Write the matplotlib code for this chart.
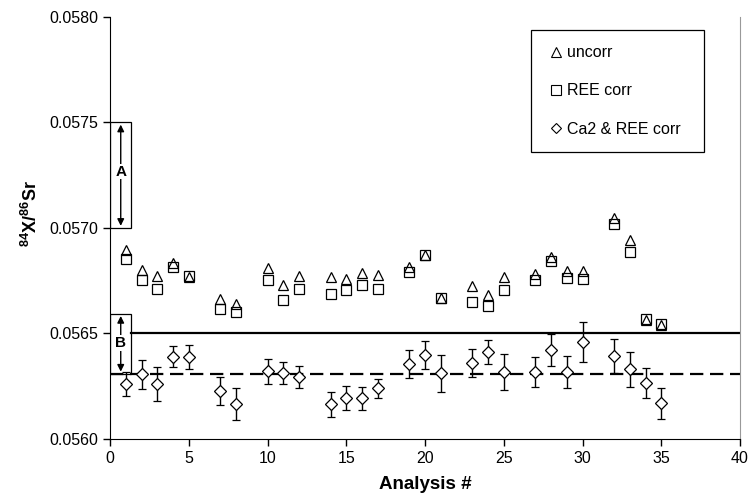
import numpy as np
import matplotlib
matplotlib.use("Agg")
import matplotlib.pyplot as plt
from matplotlib.patches import Rectangle
from matplotlib.lines import Line2D

plt.rcParams['font.family'] = ['Liberation Sans', 'DejaVu Sans']
plt.rcParams['mathtext.fontset'] = 'custom'
plt.rcParams['mathtext.rm'] = 'Liberation Sans'
plt.rcParams['mathtext.bf'] = 'Liberation Sans:bold'

# analysis numbers
analysis = [1, 2, 3, 4, 5, 7, 8, 10, 11, 12, 14, 15, 16, 17, 19, 20, 21,
            23, 24, 25, 27, 28, 29, 30, 32, 33, 34, 35]

# uncorrected ratio
uncorr = [0.056896, 0.056801, 0.056773, 0.056832, 0.056770, 0.056664, 0.056641,
          0.056810, 0.056731, 0.056773, 0.056770, 0.056758, 0.056787, 0.056775,
          0.056815, 0.056870, 0.056668, 0.056725, 0.056680, 0.056768, 0.056784,
          0.056864, 0.056795, 0.056794, 0.057047, 0.056943, 0.056566, 0.056540]

# REE corrected
ree_corr = [0.056851, 0.056754, 0.056713, 0.056815, 0.056773, 0.056616, 0.056600,
            0.056754, 0.056659, 0.056711, 0.056685, 0.056706, 0.056731, 0.056712,
            0.056792, 0.056872, 0.056670, 0.056651, 0.056628, 0.056706, 0.056754,
            0.056845, 0.056763, 0.056758, 0.057019, 0.056886, 0.056570, 0.056545]

# Ca2 & REE corrected, with errors
ca_ree_corr = [0.056261, 0.056307, 0.056259, 0.056389, 0.056389, 0.056229, 0.056166,
               0.056321, 0.056314, 0.056294, 0.056164, 0.056193, 0.056193, 0.056240,
               0.056354, 0.056398, 0.056311, 0.056359, 0.056411, 0.056318, 0.056318,
               0.056422, 0.056319, 0.056460, 0.056393, 0.056330, 0.056264, 0.056169]
ca_ree_err = [0.000058, 0.000068, 0.000080, 0.000050, 0.000055, 0.000066, 0.000077,
              0.000060, 0.000053, 0.000054, 0.000058, 0.000057, 0.000054, 0.000044,
              0.000067, 0.000066, 0.000087, 0.000067, 0.000056, 0.000087, 0.000070,
              0.000075, 0.000076, 0.000093, 0.000080, 0.000084, 0.000071, 0.000073]

# reference levels
level_solid = 0.05650
level_dashed = 0.05631

fig = plt.figure(figsize=(7.5, 5.01), dpi=100)
ax = fig.add_axes([0.1467, 0.1238, 0.84, 0.8423])

# horizontal reference lines
ax.plot([1.33, 40], [level_solid, level_solid], color='black', lw=1.6, zorder=1)
ax.plot([0, 40], [level_dashed, level_dashed], color='black', lw=1.6,
        dashes=(6, 3), zorder=1)

ax.plot(analysis, ree_corr, linestyle='none', marker='s', ms=7.3,
        mfc='white', mec='black', mew=0.9, zorder=3)
ax.plot(analysis, uncorr, linestyle='none', marker='^', ms=7.8,
        mfc='none', mec='black', mew=0.9, zorder=4)
ax.errorbar(analysis, ca_ree_corr, yerr=ca_ree_err, fmt='D', ms=6,
            mfc='white', mec='black', mew=0.9, ecolor='black', elinewidth=1,
            capsize=3, capthick=1, zorder=3)

# boxes A and B with double arrows
ax.add_patch(Rectangle((0, 0.0570), 1.33, 0.0005, fill=False, ec='black',
                       lw=0.9, zorder=2))
ax.annotate('', xy=(0.68, 0.05749), xytext=(0.68, 0.05701),
            arrowprops=dict(arrowstyle='<|-|>', color='black', lw=1,
                            mutation_scale=10, shrinkA=0, shrinkB=0))
ax.text(0.68, 0.057267, 'A', ha='center', va='center', fontsize=11,
        fontweight='bold', bbox=dict(fc='white', ec='none', pad=0.5))

ax.add_patch(Rectangle((0, level_dashed), 1.33, 0.05659 - level_dashed,
                       fill=False, ec='black', lw=0.9, zorder=2))
ax.annotate('', xy=(0.68, 0.056583), xytext=(0.68, 0.056319),
            arrowprops=dict(arrowstyle='<|-|>', color='black', lw=1,
                            mutation_scale=10, shrinkA=0, shrinkB=0))
ax.text(0.68, 0.056455, 'B', ha='center', va='center', fontsize=11,
        fontweight='bold', bbox=dict(fc='white', ec='none', pad=0.5))

ax.set_xlim(0, 40)
ax.set_ylim(0.0560, 0.0580)
ax.set_xticks(np.arange(0, 41, 5))
ax.set_yticks(np.arange(0.0560, 0.05801, 0.0005))
ax.yaxis.set_major_formatter(matplotlib.ticker.FormatStrFormatter('%.4f'))
ax.tick_params(direction='out', length=5, width=1, labelsize=11.5)

ax.spines['top'].set_visible(False)
ax.spines['right'].set_color('#999999')

ax.set_xlabel('Analysis #', fontsize=13.5, fontweight='bold', labelpad=7)
ax.set_ylabel(r'$\mathbf{^{84}X/^{86}Sr}$', fontsize=13)
ax.yaxis.set_label_coords(-0.11, 0.535)

handles = [Line2D([], [], ls='none', marker='^', ms=6.5, mfc='none', mec='black', mew=0.8),
           Line2D([], [], ls='none', marker='s', ms=6.5, mfc='none', mec='black', mew=0.8),
           Line2D([], [], ls='none', marker='D', ms=5, mfc='none', mec='black', mew=0.8)]
leg = ax.legend(handles, ['uncorr', 'REE corr', 'Ca2 & REE corr'],
                loc='upper left', bbox_to_anchor=(0.669, 0.969, 0.274, 0.0),
                mode='expand', borderaxespad=0, fontsize=11.5, labelspacing=1.45,
                handlelength=1.2, handletextpad=0.05, borderpad=0.95, fancybox=False,
                edgecolor='black', framealpha=1)
leg.get_frame().set_linewidth(0.9)

fig.savefig('out.png', dpi=100)
